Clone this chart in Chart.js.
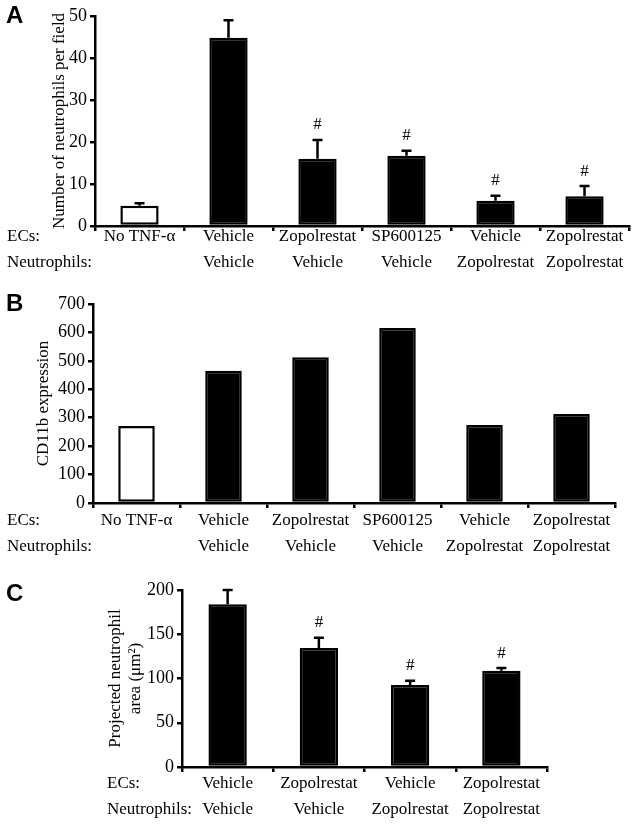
<!DOCTYPE html>
<html>
<head>
<meta charset="utf-8">
<script src="https://cdn.jsdelivr.net/npm/chart.js@4.4.0/dist/chart.umd.min.js"></script>
<style>
  body { margin: 0; background: #fff; }
  #wrap { position: relative; width: 637px; height: 825px; }
  canvas { position: absolute; left: 0; }
</style>
</head>
<body>
<div id="wrap">
  <canvas id="chartA" width="637" height="280" style="top:0px"></canvas>
  <canvas id="chartB" width="637" height="282" style="top:280px"></canvas>
  <canvas id="chartC" width="637" height="263" style="top:562px"></canvas>
</div>
<script>
// panel A - neutrophil adhesion
const ecsA = ['No TNF-α', 'Vehicle', 'Zopolrestat', 'SP600125', 'Vehicle', 'Zopolrestat'];
const neutA = ['', 'Vehicle', 'Vehicle', 'Vehicle', 'Zopolrestat', 'Zopolrestat'];
const valuesA = [4.8, 44.8, 16.0, 16.7, 6.0, 7.1];
const errorsA = [0.6, 4.2, 4.5, 1.2, 1.2, 2.4];
const sigA = [false, false, true, true, true, true];
const ticksA = [0, 10, 20, 30, 40, 50];

// panel B - CD11b
const ecsB = ['No TNF-α', 'Vehicle', 'Zopolrestat', 'SP600125', 'Vehicle', 'Zopolrestat'];
const neutB = ['', 'Vehicle', 'Vehicle', 'Vehicle', 'Zopolrestat', 'Zopolrestat'];
const valuesB = [271, 465, 513, 616, 274, 313];
const ticksB = [0, 100, 200, 300, 400, 500, 600, 700];

// panel C - projected area
const ecsC = ['Vehicle', 'Zopolrestat', 'Vehicle', 'Zopolrestat'];
const neutC = ['Vehicle', 'Vehicle', 'Zopolrestat', 'Zopolrestat'];
const valuesC = [184, 134.5, 92.7, 108.8];
const errorsC = [16, 11.5, 4.8, 3];
const sigC = [false, true, true, true];
const ticksC = [0, 50, 100, 150, 200];

const SERIF = "'Liberation Serif', 'Times New Roman', serif";
const ROW = 26;

function decoPlugin(o) {
  return {
    id: 'deco',
    afterDatasetsDraw(chart) {
      const ctx = chart.ctx;
      const ys = chart.scales.y;
      const xs = chart.scales.x;
      const bars = chart.getDatasetMeta(0).data;
      ctx.save();
      ctx.strokeStyle = '#000';
      ctx.fillStyle = '#000';
      ctx.lineWidth = 2.5;
      bars.forEach((bar, i) => {
        const err = o.errors ? o.errors[i] : 0;
        const top = ys.getPixelForValue(o.values[i] + err);
        if (err) {
          ctx.beginPath();
          ctx.moveTo(bar.x, bar.y);
          ctx.lineTo(bar.x, top);
          ctx.moveTo(bar.x - 5, top);
          ctx.lineTo(bar.x + 5, top);
          ctx.stroke();
        }
        if (o.sig && o.sig[i]) {
          ctx.font = '17px ' + SERIF;
          ctx.textAlign = 'center';
          ctx.textBaseline = 'middle';
          ctx.fillText('#', bar.x, top - 15);
        }
      });
      // row headers
      const y1 = xs.top + 5 + o.tickPad + ROW / 2;
      ctx.font = '17px ' + SERIF;
      ctx.textAlign = 'left';
      ctx.textBaseline = 'middle';
      ctx.fillText('ECs:', o.headerX, y1);
      ctx.fillText('Neutrophils:', o.headerX, y1 + ROW);
      // panel letter
      ctx.font = "bold 24px 'Liberation Sans', Arial, sans-serif";
      ctx.fillText(o.letter, 6, o.letterY);
      ctx.restore();
    }
  };
}

function makePanel(id, o) {
  const labels = o.ecs.map((e, i) => [e, o.neut[i]]);
  const fills = o.values.map((v, i) => (o.whiteFirst && i === 0) ? '#fff' : '#000');
  return new Chart(document.getElementById(id), {
    type: 'bar',
    data: {
      labels: labels,
      datasets: [{
        data: o.values,
        backgroundColor: fills,
        borderColor: '#000',
        borderWidth: 2.5,
        borderSkipped: false,
        barPercentage: o.barPct,
        categoryPercentage: 1
      }]
    },
    options: {
      responsive: false,
      animation: false,
      devicePixelRatio: 1,
      layout: { padding: { top: o.top, right: o.right, left: 0, bottom: 0 } },
      plugins: { legend: { display: false }, tooltip: { enabled: false } },
      scales: {
        x: {
          afterFit: s => { s.height = o.xHeight; },
          border: { color: '#000', width: 2.5 },
          grid: { drawOnChartArea: false, color: '#000', lineWidth: 2.5, tickLength: 5, offset: true },
          ticks: {
            color: '#000',
            autoSkip: false,
            maxRotation: 0,
            padding: o.tickPad,
            font: { family: SERIF, size: 17, lineHeight: ROW + 'px' }
          }
        },
        y: {
          min: o.ticks[0],
          max: o.ticks[o.ticks.length - 1],
          afterFit: s => { s.width = o.yWidth; },
          afterBuildTicks: s => { s.ticks = o.ticks.map(v => ({ value: v })); },
          border: { color: '#000', width: 2.5 },
          grid: { drawOnChartArea: false, color: '#000', lineWidth: 2.5, tickLength: 5 },
          ticks: { color: '#000', padding: 3, font: { family: SERIF, size: 18 } },
          title: {
            display: true,
            text: o.yTitle,
            color: '#000',
            padding: { top: o.titlePad, bottom: 0 },
            font: { family: SERIF, size: 17, lineHeight: 1.2 }
          }
        }
      }
    },
    plugins: [decoPlugin(o)]
  });
}

makePanel('chartA', {
  letter: 'A', letterY: 16, ecs: ecsA, neut: neutA, values: valuesA, errors: errorsA, sig: sigA,
  ticks: ticksA, yTitle: 'Number of neutrophils per field', titlePad: 49, yWidth: 95,
  top: 16, right: 8, xHeight: 54, tickPad: -7, barPct: 0.43, headerX: 7, whiteFirst: true
});

makePanel('chartB', {
  letter: 'B', letterY: 24, ecs: ecsB, neut: neutB, values: valuesB,
  ticks: ticksB, yTitle: 'CD11b expression', titlePad: 33, yWidth: 93,
  top: 24, right: 22, xHeight: 59, tickPad: 0, barPct: 0.42, headerX: 7, whiteFirst: true
});

makePanel('chartC', {
  letter: 'C', letterY: 32, ecs: ecsC, neut: neutC, values: valuesC, errors: errorsC, sig: sigC,
  ticks: ticksC, yTitle: ['Projected neutrophil', 'area (μm²)'], titlePad: 105, yWidth: 182,
  top: 28, right: 90, xHeight: 58, tickPad: -1, barPct: 0.42, headerX: 107, whiteFirst: false
});
</script>
</body>
</html>
